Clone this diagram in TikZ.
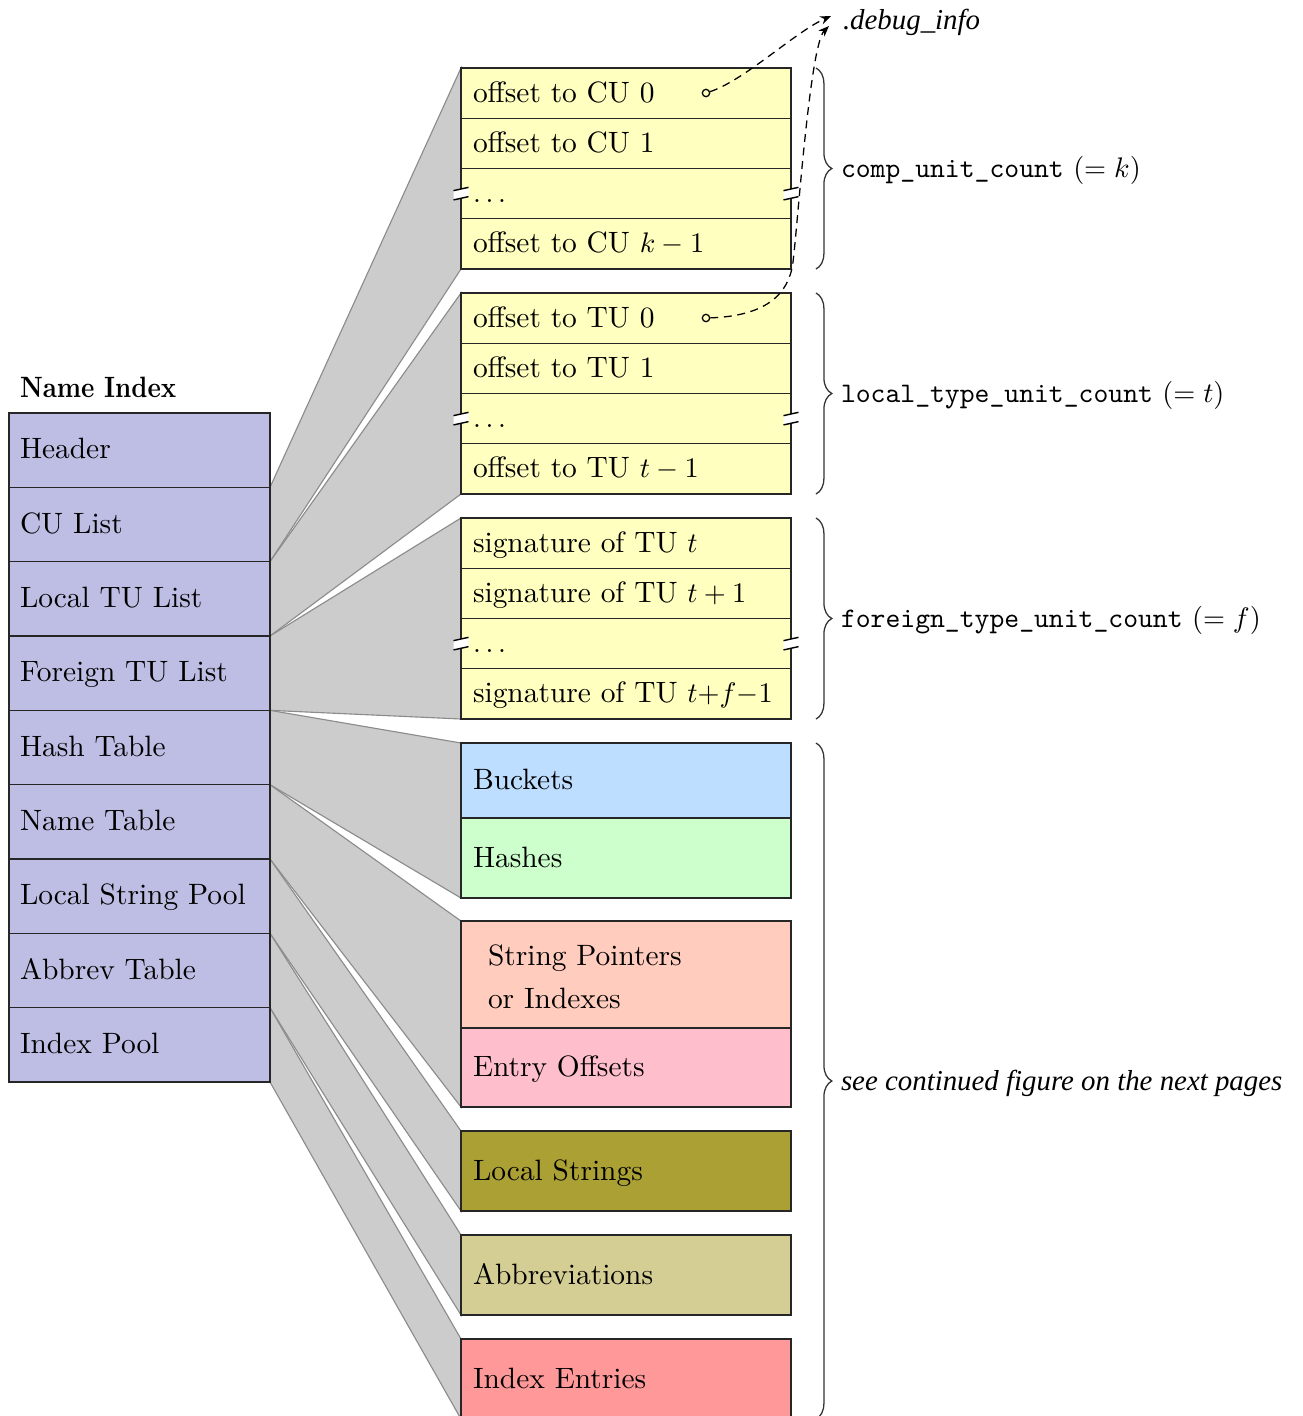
\documentclass[tikz,border=0pt]{standalone}
\usepackage{fontspec}
\usepackage{graphicx}
\newfontfamily\itserif{Liberation Serif}
\usetikzlibrary{calc,decorations.pathreplacing,arrows.meta,backgrounds}
\definecolor{purp}{RGB}{190,190,228}
\definecolor{ylw}{RGB}{255,255,192}
\definecolor{bktc}{RGB}{190,222,255}
\definecolor{hshc}{RGB}{204,255,204}
\definecolor{sptc}{RGB}{255,204,190}
\definecolor{eofc}{RGB}{255,190,204}
\definecolor{lstc}{RGB}{170,160,52}
\definecolor{abrc}{RGB}{212,206,148}
\definecolor{ienc}{RGB}{255,153,153}
\definecolor{fangray}{RGB}{204,204,204}
\definecolor{fanline}{RGB}{140,140,140}
\def\pxu{0.3534pt}
\tikzset{
  cell/.style={draw=black!85, line width=0.5pt, inner sep=0pt, outer sep=0pt,
    anchor=north west, minimum width=330*\pxu, minimum height=50.25*\pxu, fill=ylw},
  lcell/.style={cell, fill=purp, minimum width=261*\pxu, minimum height=74.333*\pxu},
  txt/.style={anchor=base west, inner sep=0pt, outer sep=0pt, font=\fontsize{10.4}{12.5}\selectfont},
  ttlab/.style={txt, font=\fontsize{10}{12}\selectfont},
  itlab/.style={txt, font=\fontsize{10.2}{12}\selectfont\itserif\itshape},
  fan/.style={fill=fangray, draw=fanline, line width=0.4pt},
  brc/.style={decorate, decoration={brace, amplitude=5.6pt}, draw=black!80, line width=0.45pt},
  darr/.style={dash pattern=on 2.8pt off 2pt, line width=0.45pt, -{Stealth[length=3.8pt,width=3pt]}},
  ring/.style={circle, draw, line width=0.45pt, inner sep=0pt, minimum size=2.6pt},
  brkline/.style={draw=black, line width=0.5pt}
}
\newcommand\brkmark[1]{%
  \begin{scope}[shift={(#1)}]
    \fill[white] (-7.5,-3) -- (7.5,-6.3) -- (7.5,3) -- (-7.5,6.3) -- cycle;
    \draw[brkline] (-7.5,-3) -- (7.5,-6.3) (-7.5,6.3) -- (7.5,3);
  \end{scope}}
\newcommand\ygroup[6]{%
  \node[cell] (#1a) at (461,#2) {};
  \node[cell] (#1b) at (#1a.south west) {};
  \node[cell] (#1c) at (#1b.south west) {};
  \node[cell] (#1d) at (#1c.south west) {};
  \node[txt] (#1a-t) at ([xshift=12*\pxu,yshift=-9*\pxu]#1a.west) {#3};
  \node[txt] (#1b-t) at ([xshift=12*\pxu,yshift=-9*\pxu]#1b.west) {#4};
  \node[txt] (#1c-t) at ([xshift=12*\pxu,yshift=-9*\pxu]#1c.west) {#5};
  \node[txt] (#1d-t) at ([xshift=12*\pxu,yshift=-9*\pxu]#1d.west) {#6};
  \brkmark{#1c.west}\brkmark{#1c.east}}
\begin{document}
\begin{tikzpicture}[x=0.3534pt,y=-0.3534pt]
\useasboundingbox (0,0) rectangle (1303,1416);

% title
\node[txt] (title) at (20,397) {\scalebox{0.86}[1]{\bfseries Name Index}};

% left column
\foreach \nm/\txt [count=\i from 0] in {Lhd/Header,Lcu/CU List,Ltu/Local TU List,Lft/Foreign TU List,Lht/Hash Table,Lnt/Name Table,Lsp/Local String Pool,Lab/Abbrev Table,Lip/Index Pool}{
  \node[lcell] (\nm) at (9,{413+\i*74.333}) {};
  \node[txt] (\nm-t) at ([xshift=11*\pxu,yshift=-8.5*\pxu]\nm.west) {\txt};
}

% yellow groups
\ygroup{cu}{68}{offset to CU 0}{offset to CU 1}{$\ldots$}{offset to CU $k-1$}
\ygroup{tu}{293}{offset to TU 0}{offset to TU 1}{$\ldots$}{offset to TU $t-1$}
\ygroup{sg}{518}{signature of TU $t$}{signature of TU $t+1$}{$\ldots$}{signature of TU $t{+}f{-}1$}

% other sections
\node[cell, fill=bktc, minimum height=75*\pxu] (bkt) at (461,743) {};
\node[cell, fill=hshc, minimum height=80*\pxu] (hsb) at (bkt.south west) {};
\node[cell, fill=sptc, minimum height=107*\pxu] (spt) at (461,921) {};
\node[cell, fill=eofc, minimum height=79*\pxu] (eof) at (spt.south west) {};
\node[cell, fill=lstc, minimum height=80*\pxu] (lst) at (461,1131) {};
\node[cell, fill=abrc, minimum height=80*\pxu] (abr) at (461,1235) {};
\node[cell, fill=ienc, minimum height=80*\pxu] (ien) at (461,1339) {};

\node[txt] (bkt-t) at ([xshift=12*\pxu,yshift=-9*\pxu]bkt.west) {Buckets};
\node[txt] (hsb-t) at ([xshift=12*\pxu,yshift=-9*\pxu]hsb.west) {Hashes};
\node[txt] (spt-t1) at (488,965) {String Pointers};
\node[txt] (spt-t2) at (488,1008) {or Indexes};
\node[txt] (eof-t) at ([xshift=12*\pxu,yshift=-9*\pxu]eof.west) {Entry Offsets};
\node[txt] (lst-t) at ([xshift=12*\pxu,yshift=-9*\pxu]lst.west) {Local Strings};
\node[txt] (abr-t) at ([xshift=12*\pxu,yshift=-9*\pxu]abr.west) {Abbreviations};
\node[txt] (ien-t) at ([xshift=12*\pxu,yshift=-9*\pxu]ien.west) {Index Entries};

% fans
\begin{scope}[on background layer]
  \filldraw[fan] (Lcu.north east) -- (cua.north west) -- (cud.south west) -- (Lcu.south east) -- cycle;
  \filldraw[fan] (Ltu.north east) -- (tua.north west) -- (tud.south west) -- (Ltu.south east) -- cycle;
  \filldraw[fan] (Lft.north east) -- (sga.north west) -- (sgd.south west) -- (Lft.south east) -- cycle;
  \filldraw[fan] (Lht.north east) -- (bkt.north west) -- (hsb.south west) -- (Lht.south east) -- cycle;
  \filldraw[fan] (Lnt.north east) -- (spt.north west) -- (eof.south west) -- (Lnt.south east) -- cycle;
  \filldraw[fan] (Lsp.north east) -- (lst.north west) -- (lst.south west) -- (Lsp.south east) -- cycle;
  \filldraw[fan] (Lab.north east) -- (abr.north west) -- (abr.south west) -- (Lab.south east) -- cycle;
  \filldraw[fan] (Lip.north east) -- (ien.north west) -- (ien.south west) -- (Lip.south east) -- cycle;
\end{scope}

% braces
\draw[brc] ([xshift=25*\pxu]cua.north east) -- ([xshift=25*\pxu]cud.south east);
\draw[brc] ([xshift=25*\pxu]tua.north east) -- ([xshift=25*\pxu]tud.south east);
\draw[brc] ([xshift=25*\pxu]sga.north east) -- ([xshift=25*\pxu]sgd.south east);
\draw[brc] ([xshift=25*\pxu]bkt.north east) -- ([xshift=25*\pxu]ien.south east);
\node[ttlab] (cu-lab) at ($(cua.north east)!0.5!(cud.south east)+(50,9)$) {\texttt{comp\_unit\_count} $(=k)$};
\node[ttlab] (tu-lab) at ($(tua.north east)!0.5!(tud.south east)+(50,9)$) {\texttt{local\_type\_unit\_count} $(=t)$};
\node[ttlab] (sg-lab) at ($(sga.north east)!0.5!(sgd.south east)+(50,9)$) {\texttt{foreign\_type\_unit\_count} $(=f)$};
\node[itlab] (rest-lab) at ($(bkt.north east)!0.5!(ien.south east)+(50,9)$) {see continued figure on the next pages};

% debug info arrows
\node[itlab] (dbg) at (843,29) {.debug\_info};
\coordinate (dbgA) at (831,16);
\coordinate (dbgB) at (829,26);
\coordinate (bend) at (793,262);
\node[ring] (o1) at (706,93) {};
\node[ring] (o2) at (706,318) {};
\draw[darr] (o1) .. controls (745,80) and (795,32) .. (dbgA);
\draw[darr] (o2) .. controls (765,316) and (789,295) .. (bend) .. controls (798,221) and (810,45) .. (dbgB);
\end{tikzpicture}
\end{document}
